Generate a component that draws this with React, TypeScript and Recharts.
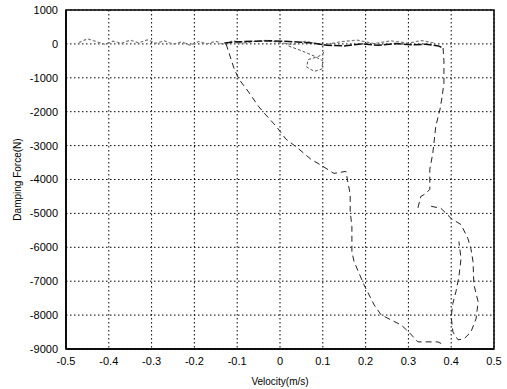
import React from "react";
import {
    LineChart,
    Line,
    XAxis,
    YAxis,
    CartesianGrid,
    ReferenceArea,
} from "recharts";

const xTicks = [-0.5, -0.4, -0.3, -0.2, -0.1, 0, 0.1, 0.2, 0.3, 0.4, 0.5];
const yTicks = [1000, 0, -1000, -2000, -3000, -4000, -5000, -6000, -7000, -8000, -9000];

// velocity (m/s) / damping force (N)
const gentleV = [-0.47, -0.45, -0.43, -0.41, -0.39, -0.37, -0.35, -0.33, -0.31, -0.29, -0.27, -0.25, -0.23, -0.21, -0.19, -0.17, -0.15, -0.13, -0.11, -0.09, -0.06, -0.03, 0.0, 0.03, 0.06, 0.1, 0.14, 0.18, 0.22, 0.26, 0.3, 0.33, 0.36];
const gentleF = [40, 150, 70, -10, 80, 20, 110, 30, 120, 20, 90, -10, 60, -40, 70, 0, 80, -30, 100, 20, 70, 110, 40, -20, 80, -40, 60, 110, 10, 90, 20, 100, 30];

const topV = [-0.13, -0.1, -0.06, -0.02, 0.02, 0.05, 0.08, 0.11, 0.15, 0.19, 0.23, 0.27, 0.31, 0.34, 0.37, 0.381];
const topF = [30, 60, 80, 90, 70, 50, 20, -40, -60, 0, -40, 10, -30, -10, -60, -120];

const curlV = [0.02, 0.05, 0.08, 0.1, 0.098, 0.08, 0.062, 0.066, 0.088, 0.1, 0.104];
const curlF = [-60, -200, -360, -500, -740, -810, -680, -460, -380, -300, -180];

const leftV = [-0.126, -0.107, -0.096, -0.075, -0.051, -0.037, -0.009, 0.014, 0.042, 0.072, 0.1, 0.126, 0.154, 0.164, 0.164, 0.168, 0.168, 0.173, 0.196, 0.22, 0.236, 0.259, 0.283, 0.301, 0.322, 0.369, 0.383];
const leftF = [0, -740, -1040, -1390, -1830, -2040, -2430, -2810, -3080, -3400, -3610, -3820, -3760, -4440, -4940, -5390, -6130, -6420, -7100, -7700, -7990, -8140, -8290, -8500, -8790, -8790, -8880];

const rightV = [0.381, 0.383, 0.383, 0.379, 0.374, 0.364, 0.357, 0.35, 0.35, 0.34, 0.329, 0.322];
const rightF = [-120, -500, -1150, -1540, -1920, -2430, -3230, -3700, -4290, -4420, -4500, -4850];

const loopV = [0.353, 0.376, 0.4, 0.423, 0.439, 0.446, 0.451, 0.453, 0.463, 0.458, 0.446, 0.43, 0.416, 0.404, 0.4, 0.404, 0.411, 0.418, 0.423, 0.418];
const loopF = [-4790, -4850, -5150, -5330, -5740, -6040, -6420, -7100, -7610, -8110, -8500, -8700, -8730, -8500, -8050, -7650, -7310, -6870, -6330, -5830];

const pts = (vs: number[], fs: number[]) => vs.map((v, i) => ({ v, f: fs[i] }));

const FONT = "Arial, 'Liberation Sans', sans-serif";

export default function App() {
    return (
        <div style={{ position: "fixed", left: 0, top: 0, background: "#fff" }}>
            <LineChart
                width={507}
                height={389}
                margin={{ top: 10, right: 13, bottom: 12, left: 0 }}
            >
                <CartesianGrid
                    stroke="#000"
                    strokeDasharray="1.5 2.5"
                    horizontalValues={yTicks}
                    verticalValues={xTicks}
                />
                <XAxis
                    dataKey="v"
                    type="number"
                    domain={[-0.5, 0.5]}
                    ticks={xTicks}
                    allowDuplicatedCategory={false}
                    height={28}
                    tickLine={false}
                    axisLine={{ stroke: "#000", strokeWidth: 1.5 }}
                    tick={{ fill: "#000", fontSize: 11, fontFamily: FONT }}
                    tickFormatter={(t: number) => String(Math.round(t * 10) / 10)}
                    label={{
                        value: "Velocity(m/s)",
                        position: "insideBottom",
                        offset: -8,
                        fill: "#000",
                        fontSize: 10,
                        fontFamily: FONT,
                    }}
                />
                <YAxis
                    type="number"
                    domain={[-9000, 1000]}
                    ticks={yTicks}
                    width={66}
                    tickLine={false}
                    axisLine={{ stroke: "#000", strokeWidth: 1.5 }}
                    tick={{ fill: "#000", fontSize: 11, fontFamily: FONT }}
                    label={{
                        value: "Damping Force(N)",
                        angle: -90,
                        position: "insideLeft",
                        offset: 17,
                        style: { textAnchor: "middle" },
                        fill: "#000",
                        fontSize: 10,
                        fontFamily: FONT,
                    }}
                />
                <ReferenceArea
                    x1={-0.5}
                    x2={0.5}
                    y1={-9000}
                    y2={1000}
                    fill="none"
                    stroke="#000"
                    strokeWidth={1.5}
                    fillOpacity={0}
                    ifOverflow="visible"
                />
                <Line
                    data={pts(gentleV, gentleF)}
                    dataKey="f"
                    stroke="#7a7a7a"
                    strokeDasharray="3 2"
                    strokeWidth={1.2}
                    dot={false}
                    isAnimationActive={false}
                />
                <Line
                    data={pts(topV, topF)}
                    dataKey="f"
                    stroke="#111"
                    strokeDasharray="8 2"
                    strokeWidth={1.5}
                    dot={false}
                    isAnimationActive={false}
                />
                <Line
                    data={pts(curlV, curlF)}
                    dataKey="f"
                    stroke="#555"
                    strokeDasharray="3 2"
                    strokeWidth={1}
                    dot={false}
                    isAnimationActive={false}
                />
                <Line
                    data={pts(leftV, leftF)}
                    dataKey="f"
                    stroke="#222"
                    strokeDasharray="6 4"
                    strokeWidth={1}
                    dot={false}
                    isAnimationActive={false}
                />
                <Line
                    data={pts(rightV, rightF)}
                    dataKey="f"
                    stroke="#222"
                    strokeDasharray="6 4"
                    strokeWidth={1}
                    dot={false}
                    isAnimationActive={false}
                />
                <Line
                    data={pts(loopV, loopF)}
                    dataKey="f"
                    stroke="#222"
                    strokeDasharray="6 4"
                    strokeWidth={1}
                    dot={false}
                    isAnimationActive={false}
                />
            </LineChart>
        </div>
    );
}
